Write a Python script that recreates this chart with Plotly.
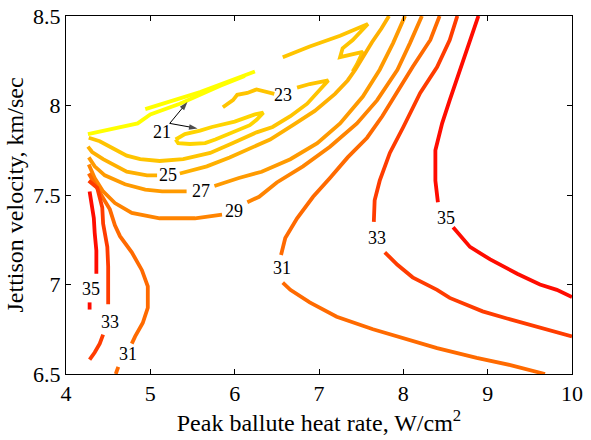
import plotly.graph_objects as go

# ---------------- data ----------------
x_ticks = [4, 5, 6, 7, 8, 9, 10]
y_ticks = [6.5, 7, 7.5, 8, 8.5]
y_tick_text = ["6.5", "7", "7.5", "8", "8.5"]

c21_x = [4.26, 4.85, 5.00, 5.35, 5.83, 6.12, None, 4.94, 5.59, 6.24]
c21_y = [7.84, 7.90, 7.95, 8.01, 8.11, 8.165, None, 7.98, 8.075, 8.19]

c21_loop_x = [5.30, 5.41, 5.59, 5.73, 6.00, 6.24, 6.34, 6.26, 6.18, 5.98, 5.77, 5.65, 5.47, 5.33, 5.30]
c21_loop_y = [7.81, 7.84, 7.86, 7.88, 7.91, 7.95, 7.96, 7.92, 7.89, 7.85, 7.81, 7.79, 7.785, 7.79, 7.81]

c23_x = [4.27, 4.40, 4.56, 4.72, 4.88, 5.11, 5.39, 5.71, 5.98, 6.26, 6.45, 6.66, 6.86, 7.01, 7.11, 6.89, 6.74,
         None, 6.47, 6.26, 6.15, 6.03, 5.98, 5.86]
c23_y = [7.82, 7.80, 7.76, 7.72, 7.70, 7.69, 7.70, 7.735, 7.79, 7.85, 7.88, 7.94, 8.01, 8.09, 8.14, 8.12, 8.10,
         None, 8.065, 8.09, 8.07, 8.06, 8.03, 7.99]

c23_zig_x = [6.57, 6.89, 7.25, 7.58, 7.40, 7.28, 7.25, 7.52, 7.45, 7.40]
c23_zig_y = [8.27, 8.33, 8.39, 8.455, 8.366, 8.32, 8.27, 8.30, 8.23, 8.19]

c25_x = [4.26, 4.31, 4.44, 4.72, 4.96, 5.08, None, 5.35, 5.67, 5.94, 6.18, 6.42, 6.69, 6.95, 7.19, 7.34, 7.43,
         7.51, 7.63, 7.74, 7.83]
c25_y = [7.77, 7.74, 7.70, 7.63, 7.61, 7.61, None, 7.62, 7.66, 7.71, 7.76, 7.81, 7.89, 7.97, 8.065, 8.14, 8.20,
         8.265, 8.355, 8.43, 8.50]

c27_x = [4.27, 4.34, 4.46, 4.70, 4.94, 5.14, 5.43, None, 5.76, 6.05, 6.32, 6.66, 6.98, 7.25, 7.52, 7.72, 7.88, 8.02]
c27_y = [7.71, 7.66, 7.61, 7.56, 7.53, 7.52, 7.52, None, 7.55, 7.595, 7.63, 7.70, 7.79, 7.90, 8.05, 8.20, 8.35, 8.50]

c29_x = [4.27, 4.34, 4.44, 4.58, 4.78, 5.11, 5.53, 5.85, None, 6.15, 6.29, 6.50, 6.81, 7.13, 7.45, 7.69, 7.93,
         8.08, 8.22]
c29_y = [7.67, 7.595, 7.52, 7.455, 7.40, 7.37, 7.37, 7.39, None, 7.46, 7.49, 7.57, 7.66, 7.77, 7.90, 8.03, 8.20,
         8.35, 8.50]

c31_left_x = [4.27, 4.34, 4.43, 4.52, 4.58, 4.64, 4.78, 4.90, 4.97, 4.97, 4.91, 4.82, 4.78, None, 4.62, 4.59]
c31_left_y = [7.62, 7.56, 7.49, 7.42, 7.33, 7.27, 7.18, 7.08, 6.99, 6.87, 6.785, 6.71, 6.67, None, 6.54, 6.50]

c31_right_x = [8.43, 8.32, 8.11, 7.93, 7.75, 7.57, 7.34, 7.13, 6.93, 6.74, 6.60, 6.55, None, 6.57, 6.66, 6.89,
               7.21, 7.64, 8.00, 8.40, 8.87, 9.27, 9.68]
c31_right_y = [8.50, 8.366, 8.215, 8.08, 7.94, 7.82, 7.71, 7.595, 7.49, 7.37, 7.26, 7.165, None, 7.01, 6.97, 6.90,
               6.82, 6.75, 6.70, 6.645, 6.59, 6.55, 6.50]

c33_left_x = [4.27, 4.37, 4.43, 4.44, 4.49, 4.50, 4.50, None, 4.44, 4.40, 4.34, 4.28]
c33_left_y = [7.58, 7.54, 7.43, 7.34, 7.21, 7.10, 6.89, None, 6.72, 6.67, 6.62, 6.58]

c33_right_x = [8.64, 8.55, 8.40, 8.20, 8.00, 7.84, 7.72, 7.66, 7.65, None, 7.78, 7.93, 8.11, 8.40, 8.55, 8.94,
               9.23, 9.62, 10.0]
c33_right_y = [8.50, 8.366, 8.215, 8.07, 7.88, 7.735, 7.58, 7.47, 7.35, None, 7.18, 7.11, 7.04, 6.97, 6.925, 6.85,
               6.81, 6.76, 6.71]

c35_left_x = [4.28, 4.31, 4.33, 4.34, 4.36, 4.36, None, 4.28, 4.28]
c35_left_y = [7.52, 7.44, 7.37, 7.29, 7.19, 7.06, None, 6.90, 6.86]

c35_right_x = [8.89, 8.79, 8.67, 8.55, 8.46, 8.38, 8.38, 8.41, None, 8.59, 8.79, 9.03, 9.35, 9.62, 9.82, 10.0]
c35_right_y = [8.50, 8.366, 8.20, 8.03, 7.90, 7.75, 7.58, 7.46, None, 7.32, 7.21, 7.14, 7.06, 7.00, 6.97, 6.93]

label_text = ["21", "23", "25", "27", "29", "31", "33", "35", "31", "33", "35"]
label_x = [5.14, 6.57, 5.21, 5.60, 5.99, 4.74, 4.52, 4.30, 6.56, 7.69, 8.51]
label_y = [7.85, 8.06, 7.61, 7.52, 7.41, 6.61, 6.79, 6.975, 7.09, 7.26, 7.37]

arrow_tail = (5.23, 7.90)
arrow_head_x = [5.44, 5.56]
arrow_head_y = [8.02, 7.872]

x_title = "Peak ballute heat rate, W/cm<sup>2</sup>"
y_title = "Jettison velocity, km/sec"

# ---------------- styling ----------------
colors = {
    "21": "#FFFF00", "21loop": "#FFD400", "23": "#FFC400", "25": "#FFB000",
    "27": "#FF9A00", "29": "#FF8400", "31": "#FF6A00", "33": "#FF3C00", "35": "#FF0C00",
}

segments = [
    ("21", c21_x, c21_y), ("21loop", c21_loop_x, c21_loop_y),
    ("23", c23_x, c23_y), ("23", c23_zig_x, c23_zig_y),
    ("25", c25_x, c25_y), ("27", c27_x, c27_y), ("29", c29_x, c29_y),
    ("31", c31_left_x, c31_left_y), ("31", c31_right_x, c31_right_y),
    ("33", c33_left_x, c33_left_y), ("33", c33_right_x, c33_right_y),
    ("35", c35_left_x, c35_left_y), ("35", c35_right_x, c35_right_y),
]

FONT = "Liberation Serif"
fig = go.Figure()
for key, xs, ys in segments:
    fig.add_trace(go.Scatter(x=xs, y=ys, mode="lines", showlegend=False, hoverinfo="skip",
                             line=dict(color=colors[key], width=3.8), connectgaps=False))

# label arrows drawn as line traces with arrow markers at their heads
for hx, hy in zip(arrow_head_x, arrow_head_y):
    fig.add_trace(go.Scatter(x=[arrow_tail[0], hx], y=[arrow_tail[1], hy], mode="lines+markers",
                             showlegend=False, hoverinfo="skip",
                             line=dict(color="black", width=1),
                             marker=dict(symbol=["circle", "arrow"], size=[0, 9], color="black",
                                         angleref="previous", line=dict(width=0))))

annotations = []
for t, x, y in zip(label_text, label_x, label_y):
    annotations.append(dict(x=x, y=y, xref="x", yref="y", text=t, showarrow=False,
                            font=dict(family=FONT, size=18, color="black")))

axis_common = dict(showline=True, linecolor="black", linewidth=1, mirror="ticks", ticks="inside",
                   ticklen=5, tickcolor="black", tickwidth=1, showgrid=False, zeroline=False,
                   automargin=False,
                   tickfont=dict(family=FONT, size=22, color="black"))

fig.update_layout(
    width=591, height=440,
    margin=dict(l=66, r=19, t=16, b=66),
    paper_bgcolor="white", plot_bgcolor="white",
    xaxis=dict(range=[4, 10], tickvals=x_ticks, ticktext=[str(v) for v in x_ticks],
               title=dict(text=x_title, standoff=4, font=dict(family=FONT, size=24, color="black")),
               **axis_common),
    yaxis=dict(range=[6.5, 8.5], tickvals=y_ticks, ticktext=y_tick_text,
               title=dict(text=y_title, standoff=2, font=dict(family=FONT, size=24, color="black")),
               **axis_common),
    annotations=annotations,
)
fig.write_html("out.html")
